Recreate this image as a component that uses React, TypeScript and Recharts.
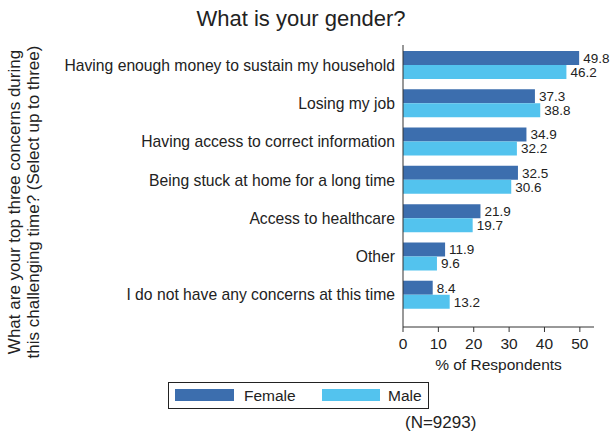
import { BarChart, Bar, XAxis, YAxis, LabelList } from "recharts"

// ── Data ──
const CATEGORIES = [
  "Having enough money to sustain my household",
  "Losing my job",
  "Having access to correct information",
  "Being stuck at home for a long time",
  "Access to healthcare",
  "Other",
  "I do not have any concerns at this time",
]
const FEMALE = [49.8, 37.3, 34.9, 32.5, 21.9, 11.9, 8.4]
const MALE = [46.2, 38.8, 32.2, 30.6, 19.7, 9.6, 13.2]
const X_TICKS = [0, 10, 20, 30, 40, 50]

// ── Colors ──
const COLORS = {
  female: "#3C6EAE",
  male: "#53C3EE",
  text: "#222222",
  axis: "#333333",
}

const FONT = "'Liberation Sans', Arial, sans-serif"

const data = CATEGORIES.map((name, i) => ({ name, female: FEMALE[i], male: MALE[i] }))

export default function App() {
  return (
    <div style={{ position: "absolute", left: 0, top: 0, width: 610, height: 434, background: "#fff", fontFamily: FONT }}>
      <BarChart
        width={610}
        height={434}
        data={data}
        layout="vertical"
        margin={{ top: 45, right: 16, left: 0, bottom: 67 }}
        barSize={14}
        barGap={0}
      >
        <XAxis
          type="number"
          domain={[0, 54]}
          ticks={X_TICKS}
          height={40}
          tick={{ fontSize: 15.5, fill: COLORS.text, fontFamily: FONT }}
          tickSize={5}
          tickMargin={6}
          stroke={COLORS.axis}
          label={{ value: "% of Respondents", position: "insideBottom", offset: -3, fontSize: 15.5, fill: COLORS.text, fontFamily: FONT }}
        />
        <YAxis
          type="category"
          dataKey="name"
          width={403}
          tickLine={false}
          tickMargin={2}
          padding={{ top: 1, bottom: 13 }}
          stroke={COLORS.axis}
          tick={{ fontSize: 15.7, fill: COLORS.text, fontFamily: FONT }}
          interval={0}
        />
        <Bar dataKey="female" name="Female" fill={COLORS.female} isAnimationActive={false}>
          <LabelList dataKey="female" position="right" offset={4} style={{ fontSize: 13.5, fill: COLORS.text, fontFamily: FONT }} />
        </Bar>
        <Bar dataKey="male" name="Male" fill={COLORS.male} isAnimationActive={false}>
          <LabelList dataKey="male" position="right" offset={4} style={{ fontSize: 13.5, fill: COLORS.text, fontFamily: FONT }} />
        </Bar>
      </BarChart>

      {/* title, y-axis title, legend, footnote */}
      <svg width={610} height={434} style={{ position: "absolute", left: 0, top: 0, pointerEvents: "none" }}>
        <text x={301} y={26} textAnchor="middle" fontSize={22} fill={COLORS.text} fontFamily={FONT}>
          What is your gender?
        </text>
        <g transform="translate(20, 202) rotate(-90)">
          <text x={0} y={0} textAnchor="middle" fontSize={17} fill={COLORS.text} fontFamily={FONT}>
            What are your top three concerns during
          </text>
          <text x={0} y={19} textAnchor="middle" fontSize={17} fill={COLORS.text} fontFamily={FONT}>
            this challenging time? (Select up to three)
          </text>
        </g>
        <rect x={168.5} y={382.5} width={260} height={26} fill="none" stroke="#222" strokeWidth={1} />
        <rect x={175} y={389} width={59} height={12} fill={COLORS.female} />
        <text x={244} y={401} fontSize={15.5} fill={COLORS.text} fontFamily={FONT}>Female</text>
        <rect x={322} y={389} width={58} height={12} fill={COLORS.male} />
        <text x={388} y={401} fontSize={15.5} fill={COLORS.text} fontFamily={FONT}>Male</text>
        <text x={405} y={428} fontSize={17} fill={COLORS.text} fontFamily={FONT}>(N=9293)</text>
      </svg>
    </div>
  )
}
